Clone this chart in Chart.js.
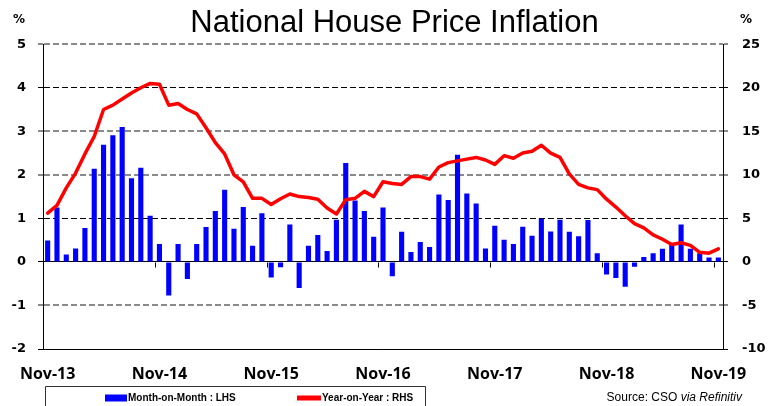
<!DOCTYPE html>
<html><head><meta charset="utf-8">
<script src="https://cdn.jsdelivr.net/npm/chart.js@4"></script>
<style>html,body{margin:0;padding:0;background:#fff;} #wrap{width:769px;height:406px;position:relative;}</style>
</head><body><div id="wrap"><canvas id="c"></canvas></div>
<script>
const months = [
 "Nov-13","Dec-13","Jan-14","Feb-14","Mar-14","Apr-14","May-14","Jun-14","Jul-14","Aug-14","Sep-14","Oct-14",
 "Nov-14","Dec-14","Jan-15","Feb-15","Mar-15","Apr-15","May-15","Jun-15","Jul-15","Aug-15","Sep-15","Oct-15",
 "Nov-15","Dec-15","Jan-16","Feb-16","Mar-16","Apr-16","May-16","Jun-16","Jul-16","Aug-16","Sep-16","Oct-16",
 "Nov-16","Dec-16","Jan-17","Feb-17","Mar-17","Apr-17","May-17","Jun-17","Jul-17","Aug-17","Sep-17","Oct-17",
 "Nov-17","Dec-17","Jan-18","Feb-18","Mar-18","Apr-18","May-18","Jun-18","Jul-18","Aug-18","Sep-18","Oct-18",
 "Nov-18","Dec-18","Jan-19","Feb-19","Mar-19","Apr-19","May-19","Jun-19","Jul-19","Aug-19","Sep-19","Oct-19",
 "Nov-19"];
const xTickLabels = ["Nov-13","Nov-14","Nov-15","Nov-16","Nov-17","Nov-18","Nov-19"];
const momValues = [
 0.49,1.25,0.17,0.31,0.78,2.14,2.69,2.91,3.10,1.92,2.16,1.06,
 0.41,-0.77,0.41,-0.39,0.41,0.80,1.17,1.66,0.76,1.26,0.37,1.12,
 -0.36,-0.12,0.86,-0.60,0.37,0.62,0.25,0.97,2.27,1.41,1.17,0.58,
 1.25,-0.33,0.69,0.23,0.46,0.34,1.55,1.42,2.46,1.57,1.34,0.31,
 0.83,0.51,0.41,0.81,0.60,0.99,0.70,0.97,0.69,0.59,0.96,0.20,
 -0.29,-0.37,-0.57,-0.11,0.11,0.20,0.30,0.40,0.86,0.30,0.20,0.10,
 0.10];
const yoyValues = [
 5.6,6.5,8.5,10.2,12.4,14.4,17.5,18.0,18.7,19.4,20.0,20.5,
 20.4,18.0,18.2,17.5,17.0,15.4,13.7,12.4,10.0,9.2,7.3,7.3,
 6.6,7.25,7.8,7.5,7.4,7.2,6.2,5.5,7.15,7.3,8.1,7.5,
 9.2,9.0,8.9,9.8,9.8,9.5,10.9,11.4,11.6,11.8,12.0,11.7,
 11.2,12.2,11.9,12.5,12.7,13.4,12.5,12.0,10.1,8.9,8.5,8.3,
 7.2,6.3,5.3,4.4,3.9,3.1,2.6,2.0,2.2,1.9,1.1,1.0,
 1.5];
const leftTicks = [-2,-1,0,1,2,3,4,5];
const rightTicks = [-10,-5,0,5,10,15,20,25];

const gridColor = (c) => {
  const v = leftTicks[c.index];
  if (v === 0 || v === -2 || v === 4 || v === 1) return '#000';
  return '#8a8a8a';
};
const gridWidth = (c) => {
  const v = leftTicks[c.index];
  if (v === 0 || v === -2 || v === 4 || v === 1) return 1;
  return 2;
};
const gridDash = (c) => {
  if (!c.tick) return [];
  const v = leftTicks[c.index];
  return (v === 0 || v === -2) ? [] : [6, 3];
};

const decor = {
  id: 'decor',
  afterLayout(chart) {
    if (chart.titleBlock) { chart.titleBlock.left += 20; }
  },
  beforeDatasetsDraw(chart) {
    const {ctx, scales: {x, y}} = chart;
    const half = (x.getPixelForValue(1) - x.getPixelForValue(0)) / 2;
    const y0 = Math.round(y.getPixelForValue(0)) + 0.5;
    ctx.save(); ctx.strokeStyle = '#000'; ctx.lineWidth = 1;
    months.forEach((m, i) => {
      if (xTickLabels.includes(m)) {
        const px = Math.round(x.getPixelForValue(i) - half) + 0.5;
        ctx.beginPath(); ctx.moveTo(px, y0); ctx.lineTo(px, y0 + 5); ctx.stroke();
      }
    });
    ctx.restore();
  },
  afterDraw(chart) {
    const {ctx, scales: {x}} = chart;
    const ds = chart.data.datasets;
    ctx.save();
    ctx.fillStyle = '#000';
    ctx.font = 'bold 12px "DejaVu Sans"';
    ctx.textBaseline = 'middle';
    ctx.textAlign = 'center';
    ctx.fillText('%', 19, 20);
    ctx.fillText('%', 746, 20);
    // legend box
    const top = Math.round(x.bottom) + 1.5;
    ctx.strokeStyle = '#333'; ctx.lineWidth = 1;
    ctx.beginPath();
    ctx.moveTo(45.5, 410); ctx.lineTo(45.5, top); ctx.lineTo(425.5, top); ctx.lineTo(425.5, 410);
    ctx.stroke();
    const ly = 398;
    ctx.font = 'bold 10px "Liberation Sans"';
    ctx.textAlign = 'left';
    ctx.fillStyle = ds[0].backgroundColor;
    ctx.fillRect(105, ly - 3.5, 22, 7);
    ctx.fillStyle = '#000';
    ctx.fillText(ds[0].label, 128, ly);
    ctx.fillStyle = ds[1].borderColor;
    ctx.fillRect(297, ly - 2.5, 24, 5);
    ctx.fillStyle = '#000';
    ctx.fillText(ds[1].label, 322, ly);
    // source
    ctx.textAlign = 'right';
    ctx.font = 'italic 12px "Liberation Sans"';
    const it = 'via Refinitiv';
    const right = 742;
    ctx.fillText(it, right, ly);
    const w = ctx.measureText(it).width;
    ctx.font = '12px "Liberation Sans"';
    ctx.fillText('Source: CSO ', right - w, ly);
    ctx.restore();
  }
};

new Chart(document.getElementById('c'), {
  type: 'bar',
  data: {
    labels: months,
    datasets: [
      { type: 'bar', label: 'Month-on-Month : LHS', data: momValues, yAxisID: 'y',
        backgroundColor: '#0000FF', borderWidth: 0, barPercentage: 0.55, categoryPercentage: 1.0, order: 2 },
      { type: 'line', label: 'Year-on-Year : RHS', data: yoyValues, yAxisID: 'y1',
        borderColor: '#FF0000', backgroundColor: '#FF0000', borderWidth: 3.5, pointRadius: 0,
        tension: 0, borderJoinStyle: 'round', borderCapStyle: 'round', order: 1 }
    ]
  },
  options: {
    responsive: true, maintainAspectRatio: false, animation: false,
    layout: { padding: { top: 0, bottom: 21, left: 0, right: 0 } },
    plugins: {
      legend: { display: false },
      tooltip: { enabled: false },
      title: { display: true, text: 'National House Price Inflation', color: '#000',
        font: { family: '"Liberation Sans"', size: 31, weight: 'normal' }, padding: { top: 5, bottom: 2 } }
    },
    scales: {
      x: {
        offset: true,
        grid: { display: false },
        border: { display: true, color: '#000', width: 1 },
        ticks: { autoSkip: false, maxRotation: 0, minRotation: 0, padding: 8, color: '#000',
          font: { family: '"Open Sans"', size: 16, weight: 'bold' },
          callback: (v, i) => xTickLabels.includes(months[i]) ? months[i] : '' },
        afterFit: (s) => { s.height = 36; }
      },
      y: {
        position: 'left', min: -2, max: 5,
        afterBuildTicks: (s) => { s.ticks = leftTicks.map(v => ({ value: v })); },
        grid: { color: gridColor, lineWidth: gridWidth, drawTicks: true, tickLength: 5,
          tickColor: gridColor, tickWidth: gridWidth },
        border: { display: true, color: '#000', width: 1, dash: gridDash },
        ticks: { padding: 12, color: '#000', font: { family: '"DejaVu Sans"', size: 13, weight: 'bold' } },
        afterFit: (s) => { s.width = 43; }
      },
      y1: {
        position: 'right', min: -10, max: 25,
        afterBuildTicks: (s) => { s.ticks = rightTicks.map(v => ({ value: v })); },
        grid: { drawOnChartArea: false, color: gridColor, lineWidth: gridWidth, drawTicks: true, tickLength: 5,
          tickColor: gridColor, tickWidth: gridWidth },
        border: { display: true, color: '#000', width: 1, dash: gridDash },
        ticks: { padding: 14, color: '#000', font: { family: '"DejaVu Sans"', size: 13, weight: 'bold' } },
        afterFit: (s) => { s.width = 46; }
      }
    }
  },
  plugins: [decor]
});
</script></body></html>
